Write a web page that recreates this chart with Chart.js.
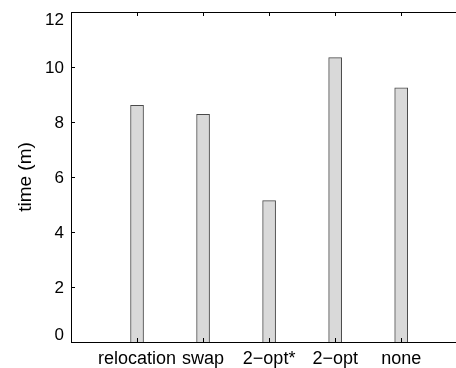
<!DOCTYPE html>
<html>
<head>
<meta charset="utf-8">
<script src="https://cdn.jsdelivr.net/npm/chart.js@4"></script>
<style>
  html, body { margin: 0; padding: 0; background: #fff; }
  #wrap { width: 456px; height: 368px; }
</style>
</head>
<body>
<div id="wrap"><canvas id="c" width="456" height="368"></canvas></div>
<script>
// data
const categories = ['relocation', 'swap', '2\u2212opt*', '2\u2212opt', 'none'];
const times = [8.61, 8.28, 5.14, 10.34, 9.24];
const yTicks = [0, 2, 4, 6, 8, 10, 12];

const FONT = 'Liberation Sans, Arial, Helvetica, sans-serif';

// matlab-ish axes: inward ticks, top line, nudged end labels
const matlabAxes = {
  id: 'matlabAxes',
  afterDraw(chart) {
    const { ctx, chartArea } = chart;
    const x = chart.scales.x, y = chart.scales.y;
    ctx.save();
    ctx.strokeStyle = '#000';
    ctx.lineWidth = 1;
    ctx.beginPath();
    // top border
    ctx.moveTo(chartArea.left, chartArea.top + 0.5);
    ctx.lineTo(chartArea.right, chartArea.top + 0.5);
    // y ticks, pointing in
    yTicks.forEach(v => {
      const py = Math.round(y.getPixelForValue(v)) + 0.5;
      ctx.moveTo(chartArea.left, py);
      ctx.lineTo(chartArea.left + 4, py);
    });
    // x ticks, top and bottom, pointing in
    categories.forEach((c, i) => {
      const px = Math.round(x.getPixelForValue(i + 1)) + 0.5;
      ctx.moveTo(px, chartArea.top);
      ctx.lineTo(px, chartArea.top + 4);
      ctx.moveTo(px, chartArea.bottom);
      ctx.lineTo(px, chartArea.bottom - 4);
    });
    ctx.stroke();

    // y tick labels
    ctx.fillStyle = '#000';
    ctx.font = '17px ' + FONT;
    ctx.textAlign = 'right';
    ctx.textBaseline = 'middle';
    yTicks.forEach(v => {
      let py = y.getPixelForValue(v) + 1;
      if (v === y.min) py -= 8;
      if (v === y.max) py += 7;
      ctx.fillText(String(v), chartArea.left - 7, py);
    });
    ctx.restore();
  }
};

new Chart(document.getElementById('c'), {
  type: 'bar',
  data: {
    datasets: [{
      data: categories.map((c, i) => ({ x: i + 1, y: times[i] })),
      backgroundColor: '#d9d9d9',
      borderColor: '#4a4a4a',
      borderWidth: 1,
      borderSkipped: 'bottom',
      barThickness: 13
    }]
  },
  options: {
    responsive: false,
    animation: false,
    layout: { padding: { top: 12, right: 0, left: 0, bottom: 0 } },
    plugins: { legend: { display: false }, tooltip: { enabled: false } },
    scales: {
      x: {
        type: 'linear',
        offset: false,
        min: 0,
        max: 5.83,
        afterBuildTicks: s => { s.ticks = categories.map((c, i) => ({ value: i + 1 })); },
        afterFit: s => { s.height = 26; },
        grid: { display: false, drawTicks: false },
        border: { display: true, color: '#000', width: 1 },
        ticks: {
          autoSkip: false,
          maxRotation: 0,
          padding: 6,
          color: '#000',
          font: { family: FONT, size: 18 },
          callback: v => categories[v - 1]
        }
      },
      y: {
        min: 0,
        max: 12,
        afterBuildTicks: s => { s.ticks = yTicks.map(v => ({ value: v })); },
        afterFit: s => { s.width = 71; },
        grid: { display: false, drawTicks: false },
        border: { display: true, color: '#000', width: 1 },
        ticks: { display: false },
        title: {
          display: true,
          text: 'time (m)',
          color: '#000',
          font: { family: FONT, size: 19 },
          padding: { top: 14, bottom: 0 }
        }
      }
    }
  },
  plugins: [matlabAxes]
});
</script>
</body>
</html>
